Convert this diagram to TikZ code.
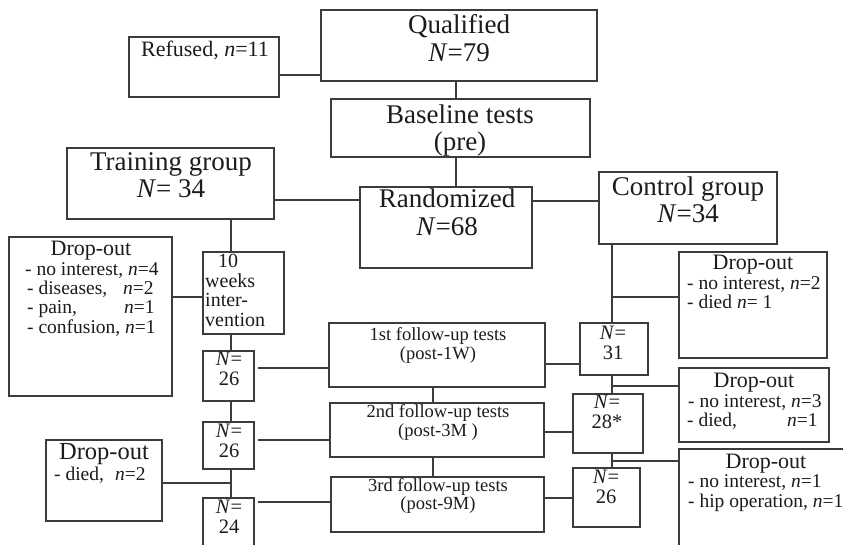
\documentclass[tikz,border=0pt]{standalone}
\usepackage{fontspec}
\setmainfont{Liberation Serif}
\definecolor{ink}{HTML}{1C1C1C}
\definecolor{rule}{HTML}{3C3C3C}
\tikzset{
  box/.style={draw=rule, line width=1.4pt, anchor=north west, inner sep=0pt, outer sep=0pt},
  link/.style={draw=rule, line width=1.3pt},
  txt/.style={text=ink, inner sep=0pt, anchor=base},
  txtl/.style={text=ink, inner sep=0pt, anchor=base west},
  big/.style={font=\fontsize{27}{30}\selectfont},
  head/.style={font=\fontsize{22}{26}\selectfont},
  item/.style={font=\fontsize{19.5}{23}\selectfont},
  fu/.style={font=\fontsize{18.5}{22}\selectfont},
  num/.style={font=\fontsize{20.5}{24}\selectfont},
  wk/.style={font=\fontsize{20}{24}\selectfont},
}
\newcommand\bx[5]{\node[box, minimum width=#4pt, minimum height=#5pt] (#1) at (#2,#3) {};}
\begin{document}
\begin{tikzpicture}[x=1pt, y=-1pt]
\useasboundingbox (0,0) rectangle (843,544);
\clip (0,0) rectangle (843,544);
\fill[white] (0,0) rectangle (843,544);

% columns used by the vertical connectors
\coordinate (colQ) at (456,0);
\coordinate (colL) at (231,0);
\coordinate (colM) at (433,0);
\coordinate (colR) at (612,0);

% boxes
\bx{refused}{129}{37}{150}{60}
\bx{qual}{321}{10}{276}{71}
\bx{base}{331}{99}{259}{58}
\bx{rand}{360}{187}{172}{81}
\bx{train}{67}{148}{207}{71}
\bx{ctrl}{599}{172}{178}{72}
\bx{weeks}{203}{252}{81}{82}
\bx{dropL}{9}{237}{163}{159}
\bx{n26a}{203}{351}{51}{50}
\bx{n26b}{203}{422}{51}{47}
\bx{n24}{203}{498}{51}{52}
\bx{dropD}{46}{440}{116}{81}
\bx{fu1}{329}{323}{216}{64}
\bx{fu2}{330}{403}{214}{54}
\bx{fu3}{331}{477}{213}{55}
\bx{n31}{580}{323}{68}{52}
\bx{n28}{573}{394}{70}{59}
\bx{n26c}{573}{468}{67}{59}
\bx{dropR1}{679}{252}{148}{106}
\bx{dropR2}{679}{368}{150}{74}
\bx{dropR3}{679}{449}{180}{110}

% texts
\node[txt, head] (t-ref) at (205,56) {Refused, \textit{n}=11};
\node[txt, big] (t-q1) at (459,33) {Qualified};
\node[txt, big] (t-q2) at (459,61) {\textit{N}=79};
\node[txt, big] (t-b1) at (460,123) {Baseline tests};
\node[txt, big] (t-b2) at (460,150) {(pre)};
\node[txt, big] (t-t1) at (171,170) {Training group};
\node[txt, big] (t-t2) at (171,197) {\textit{N}= 34};
\node[txt, big] (t-r1) at (447,207) {Randomized};
\node[txt, big] (t-r2) at (447,235) {\textit{N}=68};
\node[txt, big] (t-c1) at (688,195) {Control group};
\node[txt, big] (t-c2) at (688,222) {\textit{N}=34};

\node[txt, wk] (t-w1) at (228,267) {10};
\node[txtl, wk] (t-w2) at (205,287) {weeks};
\node[txtl, wk] (t-w3) at (205,306) {inter-};
\node[txtl, wk] (t-w4) at (205,326) {vention};

\node[txt, head] (t-dl0) at (91,255) {Drop-out};
\node[txtl, item] (t-dl1) at (25,275) {- no interest, \textit{n}=4};
\node[txtl, item] (t-dl2) at (27,294) {\makebox[96pt][l]{- diseases,}\textit{n}=2};
\node[txtl, item] (t-dl3) at (27,313) {\makebox[97pt][l]{- pain,}\textit{n}=1};
\node[txtl, item] (t-dl4) at (27,333) {- confusion, \textit{n}=1};

\node[txt, font=\fontsize{24.5}{28}\selectfont] (t-dd0) at (104,459) {Drop-out};
\node[txtl, font=\fontsize{19.5}{24}\selectfont] (t-dd1) at (54,480) {\makebox[61pt][l]{- died,}\textit{n}=2};

\node[txt, fu] (t-f11) at (438,340) {1st follow-up tests};
\node[txt, fu] (t-f12) at (438,359) {(post-1W)};
\node[txt, fu] (t-f21) at (438,417) {2nd follow-up tests};
\node[txt, fu] (t-f22) at (438,436) {(post-3M )};
\node[txt, fu] (t-f31) at (438,491) {3rd follow-up tests};
\node[txt, fu] (t-f32) at (438,509) {(post-9M)};

\node[txt, num] (t-a1) at (229,365) {\textit{N}=};
\node[txt, num] (t-a2) at (229,385) {26};
\node[txt, num] (t-b1n) at (229,437) {\textit{N}=};
\node[txt, num] (t-b2n) at (229,457) {26};
\node[txt, num] (t-c1n) at (229,513) {\textit{N}=};
\node[txt, num] (t-c2n) at (229,533) {24};
\node[txt, num] (t-d1) at (613,339) {\textit{N}=};
\node[txt, num] (t-d2) at (613,359) {31};
\node[txt, num] (t-e1) at (607,408) {\textit{N}=};
\node[txt, num] (t-e2) at (607,428) {28*};
\node[txt, num] (t-g1) at (606,483) {\textit{N}=};
\node[txt, num] (t-g2) at (606,503) {26};

\node[txt, head] (t-x0) at (753,269) {Drop-out};
\node[txtl, item] (t-x1) at (687,289) {- no interest, \textit{n}=2};
\node[txtl, item] (t-x2) at (687,308) {- died \textit{n}= 1};
\node[txt, head] (t-y0) at (754,387) {Drop-out};
\node[txtl, item] (t-y1) at (688,407) {- no interest, \textit{n}=3};
\node[txtl, item] (t-y2) at (687,426) {\makebox[100pt][l]{- died,}\textit{n}=1};
\node[txt, head] (t-z0) at (766,468) {Drop-out};
\node[txtl, item] (t-z1) at (688,487) {- no interest, \textit{n}=1};
\node[txtl, item] (t-z2) at (688,507) {- hip operation, \textit{n}=1};

% rows of the horizontal connectors
\coordinate (r75) at (0,75);
\coordinate (r200) at (0,200);
\coordinate (r201) at (0,201);
\coordinate (r297) at (0,297);
\coordinate (r368) at (0,368);
\coordinate (r440) at (0,440);
\coordinate (r483) at (0,483);
\coordinate (r502) at (0,502);
\coordinate (r364) at (0,364);
\coordinate (r386) at (0,386);
\coordinate (r432) at (0,432);
\coordinate (r461) at (0,461);
\coordinate (r498) at (0,498);

% connectors
\draw[link] (refused.east |- r75) -- (qual.west |- r75);
\draw[link] (qual.south -| colQ) -- (base.north -| colQ);
\draw[link] (base.south -| colQ) -- (rand.north -| colQ);
\draw[link] (train.east |- r200) -- (rand.west |- r200);
\draw[link] (rand.east |- r201) -- (ctrl.west |- r201);
\draw[link] (train.south -| colL) -- (weeks.north -| colL);
\draw[link] (dropL.east |- r297) -- (weeks.west |- r297);
\draw[link] (weeks.south -| colL) -- (n26a.north -| colL);
\draw[link, shorten <=4pt] (n26a.east |- r368) -- (fu1.west |- r368);
\draw[link] (n26a.south -| colL) -- (n26b.north -| colL);
\draw[link, shorten <=4pt] (n26b.east |- r440) -- (fu2.west |- r440);
\draw[link] (n26b.south -| colL) -- (n24.north -| colL);
\draw[link] (dropD.east |- r483) -- (colL |- r483);
\draw[link, shorten <=4pt] (n24.east |- r502) -- (fu3.west |- r502);
\draw[link] (fu1.south -| colM) -- (fu2.north -| colM);
\draw[link] (fu2.south -| colM) -- (fu3.north -| colM);
\draw[link] (ctrl.south -| colR) -- (n31.north -| colR);
\draw[link] (colR |- r297) -- (dropR1.west |- r297);
\draw[link] (n31.west |- r364) -- (fu1.east |- r364);
\draw[link] (n31.south -| colR) -- (n28.north -| colR);
\draw[link] (colR |- r386) -- (dropR2.west |- r386);
\draw[link] (fu2.east |- r432) -- (n28.west |- r432);
\draw[link] (n28.south -| colR) -- (n26c.north -| colR);
\draw[link] (colR |- r461) -- (dropR3.west |- r461);
\draw[link] (fu3.east |- r498) -- (n26c.west |- r498);
\end{tikzpicture}
\end{document}
